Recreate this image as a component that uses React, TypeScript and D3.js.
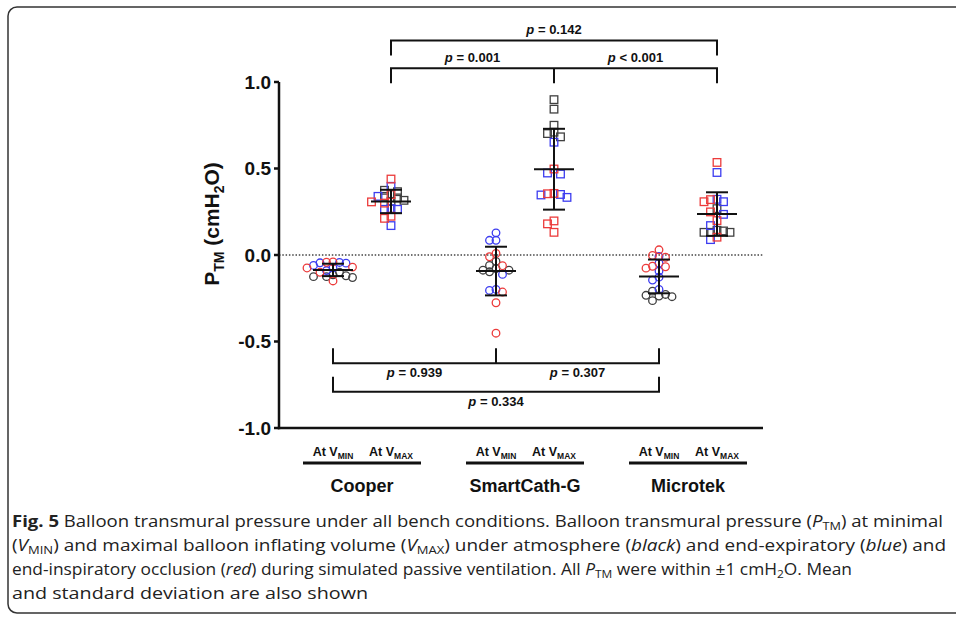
import React from "react";
import * as d3 from "d3";

const WIDTH = 956;
const HEIGHT = 617;

const GROUPS = ["Cooper", "SmartCath-G", "Microtek"];
const VOLUMES = ["MIN", "MAX"];
const CONDITION_COLORS = ["#404040", "#3c3cf0", "#ec3b3b"]; // atmosphere, end-expiratory, end-inspiratory
const Y_TICKS = [1.0, 0.5, 0.0, -0.5, -1.0];

// P_TM readings, per column: [black, blue, red]
const cooperMin = [
  [-0.1, -0.115, -0.125, -0.13, -0.125, -0.12],
  [-0.045, -0.043, -0.047, -0.06, -0.075, -0.09],
  [-0.04, -0.042, -0.07, -0.075, -0.1, -0.15],
];
const cooperMax = [
  [0.374, 0.366, 0.339, 0.316, 0.31, 0.33],
  [0.397, 0.339, 0.264, 0.264, 0.268, 0.17],
  [0.439, 0.349, 0.307, 0.3, 0.224, 0.212],
];
const smartMin = [
  [-0.037, -0.06, -0.088, -0.097, -0.088, -0.078],
  [0.128, 0.085, 0.085, -0.112, -0.199, -0.205],
  [0.009, -0.01, -0.062, -0.214, -0.276, -0.452],
];
const smartMax = [
  [0.898, 0.843, 0.75, 0.702, 0.71, 0.683],
  [0.652, 0.474, 0.468, 0.35, 0.333, 0.347],
  [0.497, 0.356, 0.354, 0.197, 0.18, 0.131],
];
const microMin = [
  [-0.228, -0.237, -0.241, -0.233, -0.209, -0.264],
  [-0.009, -0.047, -0.093, -0.128, -0.145, -0.199],
  [0.03, -0.013, -0.003, -0.076, -0.065, -0.068],
];
const microMax = [
  [0.268, 0.143, 0.131, 0.131, 0.131, 0.139],
  [0.477, 0.322, 0.308, 0.235, 0.17, 0.089],
  [0.535, 0.308, 0.32, 0.249, 0.199, 0.103],
];
const COLUMNS = [
  { group: "Cooper", volume: "MIN", shape: "circle", values: cooperMin },
  { group: "Cooper", volume: "MAX", shape: "square", values: cooperMax },
  { group: "SmartCath-G", volume: "MIN", shape: "circle", values: smartMin },
  { group: "SmartCath-G", volume: "MAX", shape: "square", values: smartMax },
  { group: "Microtek", volume: "MIN", shape: "circle", values: microMin },
  { group: "Microtek", volume: "MAX", shape: "square", values: microMax },
];

// comparison brackets: column indexes, level in data units, labels
const BRACKETS = [
  { from: 1, to: 5, mid: null, level: 1.24, down: true, labels: ["0.142"], ops: ["="] },
  { from: 1, to: 5, mid: 3, level: 1.08, down: true, labels: ["0.001", "0.001"], ops: ["=", "<"] },
  { from: 0, to: 4, mid: 2, level: -0.625, down: false, labels: ["0.939", "0.307"], ops: ["=", "="] },
  { from: 0, to: 4, mid: null, level: -0.79, down: false, labels: ["0.334"], ops: ["="] },
];

const CHART_FONT = "'Liberation Sans', Arial, sans-serif";
const CAPTION_FONT = "'Open Sans', sans-serif";

function swarm(points, y, minDist, step) {
  const sorted = [...points].sort((a, b) => b.v - a.v);
  const placed = [];
  for (const p of sorted) {
    const py = y(p.v);
    for (let k = 0; k < 40; k++) {
      const dx = k === 0 ? 0 : (k % 2 === 1 ? -1 : 1) * Math.ceil(k / 2) * step;
      if (placed.every((q) => Math.hypot(q.dx - dx, q.py - py) >= minDist)) {
        placed.push({ ...p, dx, py });
        break;
      }
    }
  }
  return placed.sort((a, b) => a.c - b.c);
}

const fmtTick = (t) => d3.format(".1f")(t).replace("\u2212", "-");

function Caption() {
  const sub = (t) => (
    <tspan baselineShift="-3" fontSize={11}>
      {t}
    </tspan>
  );
  const lines = [
    {
      len: 931,
      body: (
        <>
          <tspan fontWeight="bold">Fig. 5</tspan> Balloon transmural pressure under all bench conditions. Balloon
          transmural pressure (<tspan fontStyle="italic">P</tspan>
          {sub("TM")}) at minimal
        </>
      ),
    },
    {
      len: 934,
      body: (
        <>
          (<tspan fontStyle="italic">V</tspan>
          {sub("MIN")}) and maximal balloon inflating volume (<tspan fontStyle="italic">V</tspan>
          {sub("MAX")}) under atmosphere (<tspan fontStyle="italic">black</tspan>) and end-expiratory (
          <tspan fontStyle="italic">blue</tspan>) and
        </>
      ),
    },
    {
      len: 840,
      body: (
        <>
          end-inspiratory occlusion (<tspan fontStyle="italic">red</tspan>) during simulated passive ventilation. All{" "}
          <tspan fontStyle="italic">P</tspan>
          {sub("TM")} were within ±1 cmH{sub("2")}O. Mean
        </>
      ),
    },
    { len: 356, body: <>and standard deviation are also shown</> },
  ];
  return (
    <g fontFamily={CAPTION_FONT} fontSize={16} fill="#222">
      {lines.map((l, i) => (
        <text key={i} x={12} y={527 + i * 24} textLength={l.len} lengthAdjust="spacingAndGlyphs">
          {l.body}
        </text>
      ))}
    </g>
  );
}

export default function App() {
  const y = d3.scaleLinear().domain([-1, 1]).range([428, 82]);
  const xGroup = d3.scalePoint().domain(GROUPS).range([362, 688]);
  const xVol = d3.scalePoint().domain(VOLUMES).range([-29, 29]);
  const colX = (c) => xGroup(c.group) + xVol(c.volume);

  const axisX = 279;
  const axisEnd = 763;

  const columns = COLUMNS.map((col) => {
    const pts = [];
    col.values.forEach((vals, c) => vals.forEach((v) => pts.push({ v, c })));
    const all = pts.map((p) => p.v);
    return {
      ...col,
      cx: colX(col),
      mean: d3.mean(all),
      sd: d3.deviation(all),
      pts: swarm(pts, y, 6, 6.5),
    };
  });

  return (
    <svg width={WIDTH} height={HEIGHT} style={{ position: "absolute", left: 0, top: 0 }}>
      <rect x={8} y={7} width={1000} height={606} rx={9} fill="none" stroke="#333" strokeWidth={1.5} />

      {/* zero line */}
      <line x1={axisX} x2={axisEnd} y1={y(0)} y2={y(0)} stroke="#444" strokeWidth={1.5} strokeDasharray="1.5 1.8" />

      {/* axes */}
      <g stroke="#111" strokeWidth={2.5}>
        <line x1={axisX} x2={axisX} y1={y(1)} y2={y(-1) + 1.2} />
        <line x1={axisX - 1.2} x2={axisEnd} y1={y(-1)} y2={y(-1)} />
        {Y_TICKS.map((t) => (
          <line key={t} x1={axisX - 5} x2={axisX} y1={y(t)} y2={y(t)} />
        ))}
      </g>
      <g fontFamily={CHART_FONT} fontWeight="bold" fontSize={19} fill="#111" textAnchor="end">
        {Y_TICKS.map((t) => (
          <text key={t} x={271} y={y(t)} dy="0.36em">
            {fmtTick(t)}
          </text>
        ))}
      </g>
      <text
        transform={`translate(${219},${224}) rotate(-90)`}
        textAnchor="middle"
        fontFamily={CHART_FONT}
        fontWeight="bold"
        fontSize={21}
        fill="#111"
      >
        P<tspan fontSize={14} baselineShift="-5">TM</tspan> (cmH<tspan fontSize={14} baselineShift="-5">2</tspan>O)
      </text>

      {/* points */}
      {columns.map((col, i) => (
        <g key={i} fill="none" strokeWidth={1.3}>
          {col.pts.map((p, j) =>
            col.shape === "circle" ? (
              <circle key={j} cx={col.cx + p.dx} cy={p.py} r={3.8} stroke={CONDITION_COLORS[p.c]} />
            ) : (
              <rect key={j} x={col.cx + p.dx - 3.8} y={p.py - 3.8} width={7.6} height={7.6} stroke={CONDITION_COLORS[p.c]} />
            )
          )}
        </g>
      ))}

      {/* mean and SD */}
      <g stroke="#111" strokeWidth={2}>
        {columns.map((col, i) => (
          <g key={i}>
            <line x1={col.cx - 20} x2={col.cx + 20} y1={y(col.mean)} y2={y(col.mean)} />
            <line x1={col.cx} x2={col.cx} y1={y(col.mean + col.sd)} y2={y(col.mean - col.sd)} />
            <line x1={col.cx - 11} x2={col.cx + 11} y1={y(col.mean + col.sd)} y2={y(col.mean + col.sd)} />
            <line x1={col.cx - 11} x2={col.cx + 11} y1={y(col.mean - col.sd)} y2={y(col.mean - col.sd)} />
          </g>
        ))}
      </g>

      {/* brackets */}
      {BRACKETS.map((b, i) => {
        const x1 = columns[b.from].cx;
        const x2 = columns[b.to].cx;
        const by = y(b.level);
        const tick = b.down ? 15 : -15;
        const ticks = [x1, x2];
        if (b.mid !== null) ticks.push(columns[b.mid].cx);
        const spans =
          b.mid === null ? [[x1, x2]] : [[x1, columns[b.mid].cx], [columns[b.mid].cx, x2]];
        return (
          <g key={i}>
            <g stroke="#111" strokeWidth={2}>
              <line x1={x1 - 1} x2={x2 + 1} y1={by} y2={by} />
              {ticks.map((tx, k) => (
                <line key={k} x1={tx} x2={tx} y1={by} y2={by + tick} />
              ))}
            </g>
            {spans.map((s, k) => (
              <text
                key={k}
                x={(s[0] + s[1]) / 2}
                y={b.down ? by - 6 : by + 14}
                textAnchor="middle"
                fontFamily={CHART_FONT}
                fontWeight="bold"
                fontSize={13}
                fill="#111"
              >
                <tspan fontStyle="italic">p</tspan> {b.ops[k]} {b.labels[k]}
              </text>
            ))}
          </g>
        );
      })}

      {/* x categories */}
      <g fontFamily={CHART_FONT} fontWeight="bold" fill="#111">
        {columns.map((col, i) => (
          <text key={i} x={col.cx} y={456} textAnchor="middle" fontSize={12.5}>
            At V<tspan fontSize={8.5} baselineShift="-3">{col.volume}</tspan>
          </text>
        ))}
        {GROUPS.map((g) => (
          <g key={g}>
            <line x1={xGroup(g) - 59} x2={xGroup(g) + 59} y1={463} y2={463} stroke="#111" strokeWidth={3} />
            <text x={xGroup(g)} y={491.5} textAnchor="middle" fontSize={18}>
              {g}
            </text>
          </g>
        ))}
      </g>

      <Caption />
    </svg>
  );
}
